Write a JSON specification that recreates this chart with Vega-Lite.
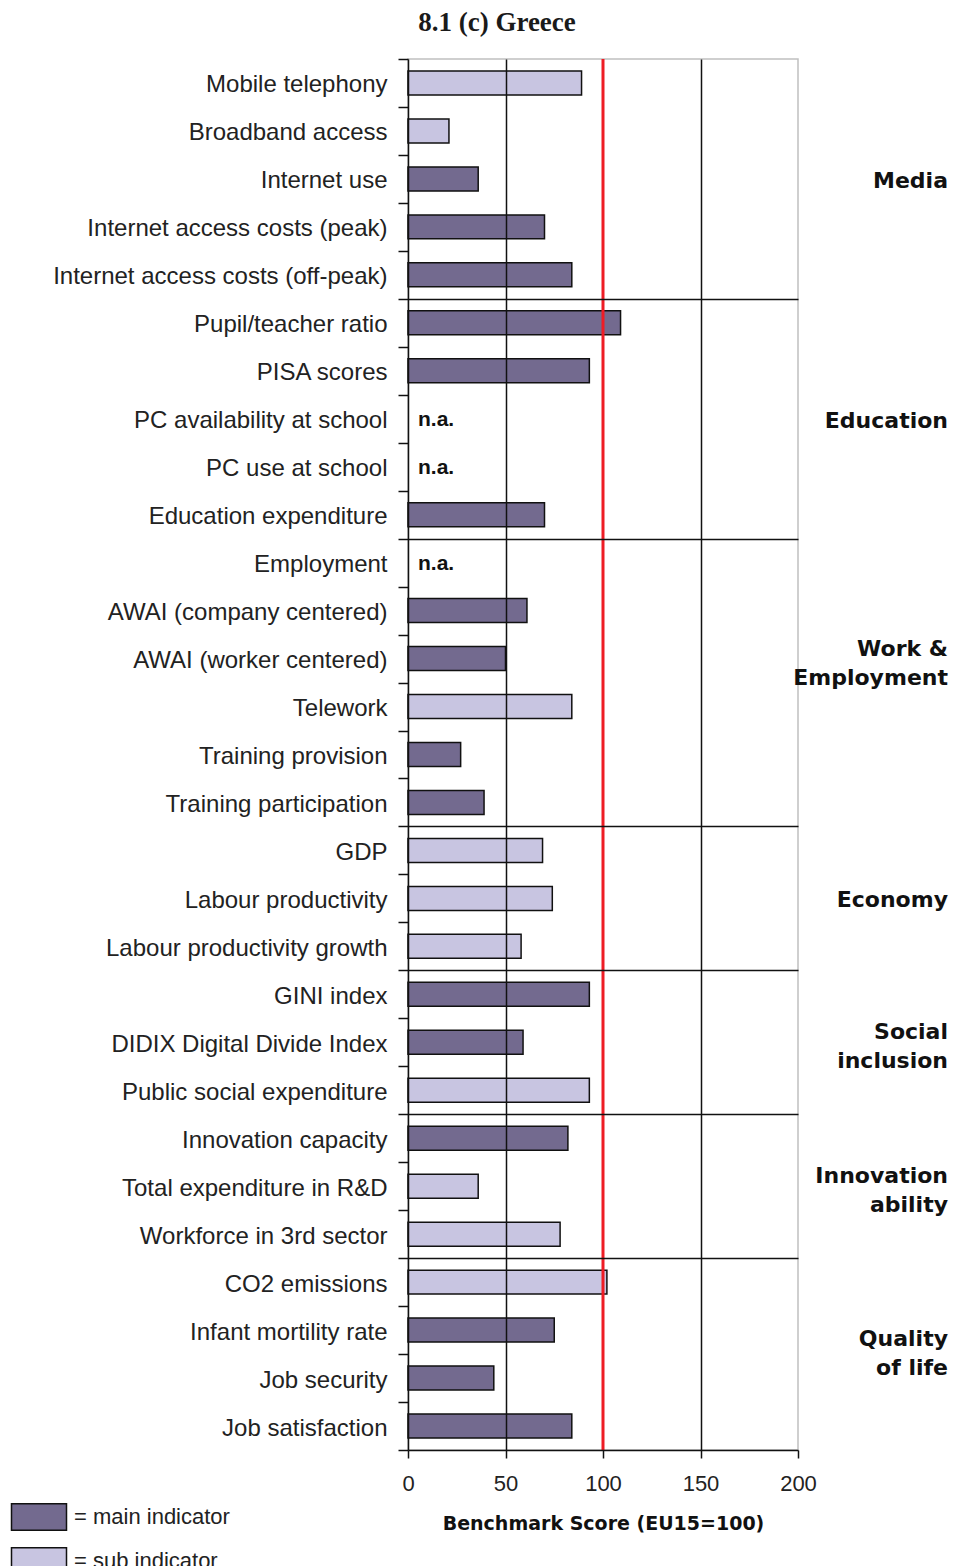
{
  "$schema": "https://vega.github.io/schema/vega-lite/v6.json",
  "width": 390,
  "height": 1391,
  "autosize": {"type": "none"},
  "padding": {"left": 408, "top": 59, "right": 155, "bottom": 116},
  "background": "white",
  "view": {"stroke": "#c0c0c0", "strokeWidth": 1.5},
  "title": {"text": "8.1 (c) Greece", "font": "Liberation Serif", "fontSize": 27, "fontWeight": "bold", "color": "#1a1a1a", "anchor": "middle", "dx": -106, "offset": 10},
  "datasets": {
    "bars": [
      {"indicator": "Mobile telephony", "score": 89, "type": "sub indicator"},
      {"indicator": "Broadband access", "score": 21, "type": "sub indicator"},
      {"indicator": "Internet use", "score": 36, "type": "main indicator"},
      {"indicator": "Internet access costs (peak)", "score": 70, "type": "main indicator"},
      {"indicator": "Internet access costs (off-peak)", "score": 84, "type": "main indicator"},
      {"indicator": "Pupil/teacher ratio", "score": 109, "type": "main indicator"},
      {"indicator": "PISA scores", "score": 93, "type": "main indicator"},
      {"indicator": "PC availability at school", "score": null, "type": "main indicator", "note": "n.a."},
      {"indicator": "PC use at school", "score": null, "type": "main indicator", "note": "n.a."},
      {"indicator": "Education expenditure", "score": 70, "type": "main indicator"},
      {"indicator": "Employment", "score": null, "type": "main indicator", "note": "n.a."},
      {"indicator": "AWAI (company centered)", "score": 61, "type": "main indicator"},
      {"indicator": "AWAI (worker centered)", "score": 50, "type": "main indicator"},
      {"indicator": "Telework", "score": 84, "type": "sub indicator"},
      {"indicator": "Training provision", "score": 27, "type": "main indicator"},
      {"indicator": "Training participation", "score": 39, "type": "main indicator"},
      {"indicator": "GDP", "score": 69, "type": "sub indicator"},
      {"indicator": "Labour productivity", "score": 74, "type": "sub indicator"},
      {"indicator": "Labour productivity growth", "score": 58, "type": "sub indicator"},
      {"indicator": "GINI index", "score": 93, "type": "main indicator"},
      {"indicator": "DIDIX Digital Divide Index", "score": 59, "type": "main indicator"},
      {"indicator": "Public social expenditure", "score": 93, "type": "sub indicator"},
      {"indicator": "Innovation capacity", "score": 82, "type": "main indicator"},
      {"indicator": "Total expenditure in R&D", "score": 36, "type": "sub indicator"},
      {"indicator": "Workforce in 3rd sector", "score": 78, "type": "sub indicator"},
      {"indicator": "CO2 emissions", "score": 102, "type": "sub indicator"},
      {"indicator": "Infant mortility rate", "score": 75, "type": "main indicator"},
      {"indicator": "Job security", "score": 44, "type": "main indicator"},
      {"indicator": "Job satisfaction", "score": 84, "type": "main indicator"}
    ],
    "groups": [
      {"group": "Media", "indicator": "Internet use", "pos": "single"},
      {"group": "Education", "indicator": "PC availability at school", "pos": "single"},
      {"group": "Work &\nEmployment", "indicator": "AWAI (worker centered)", "pos": "multi"},
      {"group": "Economy", "indicator": "Labour productivity", "pos": "single"},
      {"group": "Social\ninclusion", "indicator": "DIDIX Digital Divide Index", "pos": "multi"},
      {"group": "Innovation\nability", "indicator": "Total expenditure in R&D", "pos": "multi"},
      {"group": "Quality\nof life", "indicator": "Job security", "pos": "edge"}
    ],
    "ref": [{"benchmark": 100}]
  },
  "layer": [
    {
      "data": {"name": "bars"},
      "mark": {"type": "bar", "height": {"band": 0.5}, "stroke": "#111", "strokeWidth": 1.5},
      "encoding": {
        "y": {
          "field": "indicator", "type": "nominal",
          "scale": {
            "domain": ["Mobile telephony", "Broadband access", "Internet use", "Internet access costs (peak)", "Internet access costs (off-peak)", "Pupil/teacher ratio", "PISA scores", "PC availability at school", "PC use at school", "Education expenditure", "Employment", "AWAI (company centered)", "AWAI (worker centered)", "Telework", "Training provision", "Training participation", "GDP", "Labour productivity", "Labour productivity growth", "GINI index", "DIDIX Digital Divide Index", "Public social expenditure", "Innovation capacity", "Total expenditure in R&D", "Workforce in 3rd sector", "CO2 emissions", "Infant mortility rate", "Job security", "Job satisfaction"],
            "paddingInner": 0, "paddingOuter": 0
          },
          "axis": {
            "title": null, "zindex": 1, "tickBand": "extent",
            "domainColor": "#111", "domainWidth": 1.5,
            "tickColor": "#111", "tickWidth": 1.5, "tickSize": 10,
            "labelFont": "Liberation Sans", "labelFontSize": 24, "labelColor": "#222", "labelPadding": 11, "labelLimit": 400, "labelOffset": 2,
            "grid": true, "gridColor": "#111", "gridWidth": 1.5,
            "gridOpacity": {"condition": {"test": "indexof(['Internet access costs (off-peak)','Education expenditure','Training participation','Labour productivity growth','Public social expenditure','Workforce in 3rd sector'], datum.value) >= 0", "value": 1}, "value": 0}
          }
        },
        "x": {
          "field": "score", "type": "quantitative",
          "scale": {"domain": [0, 200], "nice": false, "zero": true},
          "axis": {
            "title": "Benchmark Score (EU15=100)", "values": [0, 50, 100, 150, 200], "zindex": 1,
            "grid": true, "gridColor": "#111", "gridWidth": 1.5,
            "gridOpacity": {"condition": {"test": "datum.value === 50 || datum.value === 150", "value": 1}, "value": 0},
            "domainColor": "#111", "domainWidth": 1.5,
            "tickColor": "#111", "tickWidth": 1.5, "tickSize": 8,
            "labelFont": "Liberation Sans", "labelFontSize": 22, "labelColor": "#222", "labelPadding": 15, "labelFlush": false,
            "titleFont": "DejaVu Sans", "titleFontSize": 19, "titleFontWeight": "bold", "titleColor": "#111", "titlePadding": 20
          }
        },
        "fill": {
          "field": "type", "type": "nominal",
          "scale": {"domain": ["main indicator", "sub indicator"], "range": ["#736a8f", "#c8c5e1"]},
          "legend": {
            "title": null, "orient": "none", "legendX": -380, "legendY": 1447, "direction": "vertical",
            "symbolType": "M-2.75,-1.33L2.75,-1.33L2.75,1.33L-2.75,1.33Z", "symbolSize": 400,
            "symbolStrokeColor": "#111", "symbolStrokeWidth": 1.5, "symbolOpacity": 1,
            "labelFont": "Liberation Sans", "labelFontSize": 22, "labelColor": "#222", "labelOffset": 24,
            "rowPadding": 10, "padding": 0, "labelExpr": "'= ' + datum.label"
          }
        }
      }
    },
    {
      "data": {"name": "ref"},
      "mark": {"type": "rule", "color": "#ee1c25", "strokeWidth": 3},
      "encoding": {"x": {"field": "benchmark", "type": "quantitative"}}
    },
    {
      "data": {"name": "bars"},
      "transform": [{"filter": "datum.note"}],
      "mark": {"type": "text", "align": "left", "baseline": "middle", "dx": 10, "dy": 1, "font": "Liberation Sans", "fontSize": 21, "fontWeight": "bold", "color": "#111"},
      "encoding": {
        "y": {"field": "indicator", "type": "nominal"},
        "x": {"datum": 0},
        "text": {"field": "note"}
      }
    },
    {
      "data": {"name": "groups"},
      "transform": [{"filter": "datum.pos === 'single'"}],
      "mark": {"type": "text", "align": "right", "baseline": "middle", "dx": 150, "dy": 2, "font": "DejaVu Sans", "fontSize": 22, "fontWeight": "bold", "color": "#111"},
      "encoding": {
        "y": {"field": "indicator", "type": "nominal"},
        "x": {"datum": 200},
        "text": {"field": "group"}
      }
    },
    {
      "data": {"name": "groups"},
      "transform": [{"filter": "datum.pos === 'multi'"}],
      "mark": {"type": "text", "align": "right", "baseline": "middle", "dx": 150, "dy": -10, "font": "DejaVu Sans", "fontSize": 22, "fontWeight": "bold", "color": "#111", "lineBreak": "\n", "lineHeight": 29},
      "encoding": {
        "y": {"field": "indicator", "type": "nominal"},
        "x": {"datum": 200},
        "text": {"field": "group"}
      }
    },
    {
      "data": {"name": "groups"},
      "transform": [{"filter": "datum.pos === 'edge'"}],
      "mark": {"type": "text", "align": "right", "baseline": "middle", "dx": 150, "dy": -15, "font": "DejaVu Sans", "fontSize": 22, "fontWeight": "bold", "color": "#111", "lineBreak": "\n", "lineHeight": 29},
      "encoding": {
        "y": {"field": "indicator", "type": "nominal", "bandPosition": 0},
        "x": {"datum": 200},
        "text": {"field": "group"}
      }
    }
  ]
}
